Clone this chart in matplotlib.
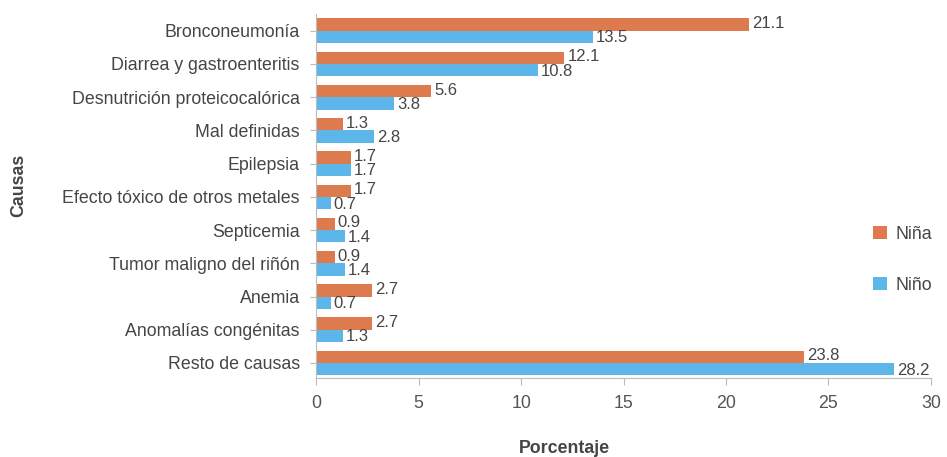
import numpy as np
import matplotlib.pyplot as plt

plt.rcParams['font.family'] = ['Liberation Sans', 'DejaVu Sans']

causas = ['Bronconeumonía', 'Diarrea y gastroenteritis', 'Desnutrición proteicocalórica',
          'Mal definidas', 'Epilepsia', 'Efecto tóxico de otros metales', 'Septicemia',
          'Tumor maligno del riñón', 'Anemia', 'Anomalías congénitas', 'Resto de causas']
nina = [21.1, 12.1, 5.6, 1.3, 1.7, 1.7, 0.9, 0.9, 2.7, 2.7, 23.8]
nino = [13.5, 10.8, 3.8, 2.8, 1.7, 0.7, 1.4, 1.4, 0.7, 1.3, 28.2]
xticks = [0, 5, 10, 15, 20, 25, 30]

c_nina = '#DE7B4E'
c_nino = '#5DB6EA'
txt = '#454545'
fs = 12.8

fig = plt.figure(figsize=(9.47, 4.57), dpi=100)
ax = fig.add_axes([0.334, 0.173, 0.649, 0.796])

y = np.arange(len(causas))
h = 0.37
ax.barh(y - h/2, nina, height=h, color=c_nina, label='Niña')
ax.barh(y + h/2, nino, height=h, color=c_nino, label='Niño')

# etiquetas de valor al final de cada barra
for yy, v in zip(y, nina):
    ax.text(v + 0.15, yy - h/2 - 0.03, f'{v}', va='center', ha='left', fontsize=12, color=txt)
for yy, v in zip(y, nino):
    ax.text(v + 0.15, yy + h/2 + 0.03, f'{v}', va='center', ha='left', fontsize=12, color=txt)

ax.set_yticks(y)
ax.set_yticklabels(causas, fontsize=fs, color=txt)
ax.set_ylim(10.45, -0.5)
ax.set_xlim(0, 30)
ax.set_xticks(xticks)
ax.set_xticklabels([str(t) for t in xticks], fontsize=fs, color='#555555')
ax.tick_params(axis='y', length=4, color='#bbbbbb', pad=8)
ax.tick_params(axis='x', length=5, color='#bbbbbb', pad=7)

for s in ['top', 'right']:
    ax.spines[s].set_visible(False)
ax.spines['left'].set_color('#bbbbbb')
ax.spines['bottom'].set_color('#bbbbbb')

ax.set_xlabel('Porcentaje', fontsize=fs, fontweight='bold', color=txt)
ax.xaxis.set_label_coords(0.404, -0.17)
ax.set_ylabel('Causas', fontsize=fs, fontweight='bold', color=txt)
ax.yaxis.set_label_coords(-0.47, 0.53)

ax.legend(loc='center left', bbox_to_anchor=(0.905, 0.325), frameon=False,
          fontsize=fs, handlelength=0.8, handleheight=0.8, labelspacing=1.9,
          handletextpad=0.5, borderaxespad=0, borderpad=0, labelcolor=txt)

plt.savefig('out.png', dpi=100)
plt.close()
